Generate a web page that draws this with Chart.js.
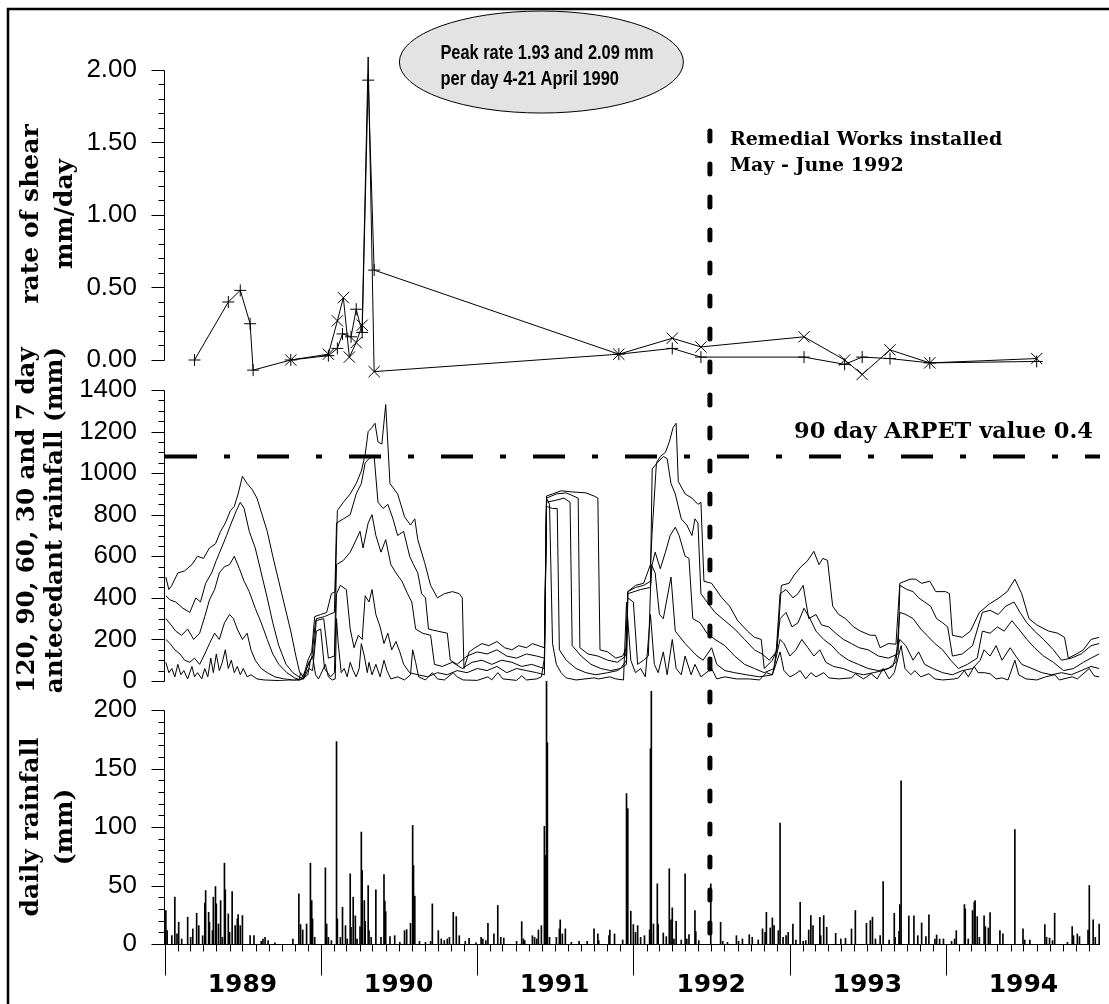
<!DOCTYPE html>
<html>
<head>
<meta charset="utf-8">
<title>Rate of shear, antecedent and daily rainfall 1989-1994</title>
<script src="https://cdn.jsdelivr.net/npm/chart.js@4.4.1/dist/chart.umd.min.js"></script>
<style>
  html, body { margin: 0; padding: 0; background: #fff; }
  canvas { display: block; }
</style>
</head>
<body>
<canvas id="shearChart" width="1109" height="1004"></canvas>
<script>
// all x values are days counted from 1 January 1989

const yearLabels = ['1989', '1990', '1991', '1992', '1993', '1994'];
const xMax = 2186;

const shearTicks = [0, 0.5, 1, 1.5, 2];
const anteTicks = [0, 200, 400, 600, 800, 1000, 1200, 1400];
const rainTicks = [0, 50, 100, 150, 200];

// rate of shear, mm/day   [day, rate]
const shearPlus = [[69,0.00],[148,0.40],[176,0.48],[199,0.25],[206,-0.07],[294,0.00],[382,0.03],[403,0.08],[415,0.18],[435,0.16],[447,0.35],[461,0.19],[475,1.93],[489,0.62],[1061,0.04],[1186,0.08],[1253,0.02],[1494,0.02],[1589,-0.03],[1630,0.02],[1695,0.01],[1788,-0.02],[2038,-0.01]];
const shearCross = [[294,0.00],[382,0.04],[403,0.27],[417,0.43],[431,0.02],[447,0.12],[461,0.24],[475,2.09],[489,-0.08],[1061,0.04],[1186,0.15],[1253,0.09],[1494,0.16],[1589,0.00],[1630,-0.10],[1695,0.07],[1788,-0.02],[2038,0.01]];

// antecedent rainfall, mm   [day, total]
const ante120 = [[2,500],[9,440],[16,460],[30,520],[46,530],[63,560],[76,600],[90,590],[104,640],[118,660],[130,720],[141,760],[153,820],[162,840],[171,900],[181,985],[192,950],[204,920],[215,880],[227,800],[239,720],[252,600],[266,480],[280,360],[294,240],[306,120],[315,40],[324,20],[334,100],[343,140],[350,310],[364,320],[378,330],[389,420],[398,430],[403,820],[417,860],[433,900],[447,950],[459,1010],[468,1090],[475,1200],[484,1220],[491,1240],[498,1150],[507,1140],[516,1330],[526,950],[544,900],[560,790],[574,750],[584,780],[591,680],[607,570],[621,460],[637,400],[653,420],[672,430],[688,420],[695,400],[699,60],[711,140],[725,160],[741,180],[757,170],[776,190],[794,160],[811,150],[827,170],[845,160],[859,180],[887,160],[892,890],[906,900],[926,915],[950,910],[984,905],[1003,890],[1012,880],[1017,150],[1035,140],[1054,110],[1070,120],[1079,160],[1082,430],[1100,460],[1119,470],[1135,560],[1139,720],[1149,1050],[1158,1080],[1170,1100],[1179,1150],[1188,1220],[1195,1240],[1200,960],[1216,900],[1232,880],[1246,850],[1253,860],[1260,480],[1278,470],[1302,400],[1320,360],[1339,290],[1362,240],[1378,210],[1394,200],[1401,60],[1420,100],[1431,150],[1441,460],[1459,470],[1471,510],[1487,550],[1501,575],[1517,624],[1529,560],[1538,590],[1549,580],[1561,360],[1575,320],[1591,300],[1610,260],[1626,240],[1649,220],[1661,220],[1672,160],[1691,180],[1709,177],[1718,470],[1730,480],[1742,490],[1755,490],[1769,470],[1788,480],[1802,430],[1825,430],[1834,420],[1841,220],[1864,210],[1883,240],[1904,330],[1927,370],[1950,400],[1969,430],[1987,490],[2003,420],[2020,300],[2038,270],[2066,240],[2087,230],[2103,210],[2112,110],[2131,130],[2147,150],[2165,200],[2184,210]];
const ante90 = [[2,410],[12,390],[25,380],[42,350],[58,330],[72,400],[83,380],[95,470],[109,520],[120,580],[132,640],[144,700],[155,760],[167,820],[176,860],[185,830],[197,720],[211,640],[225,520],[239,400],[252,280],[266,170],[283,80],[299,40],[313,20],[324,10],[336,90],[347,120],[354,300],[373,310],[384,320],[396,330],[401,760],[417,780],[433,800],[447,900],[459,950],[468,1050],[477,1070],[489,1080],[498,860],[510,830],[521,850],[533,780],[544,700],[558,720],[572,600],[581,560],[591,520],[600,420],[609,400],[616,250],[637,240],[660,230],[667,100],[683,80],[706,120],[730,140],[753,130],[776,150],[799,120],[822,110],[845,130],[869,120],[887,110],[892,880],[915,900],[938,905],[966,880],[970,160],[989,130],[1012,120],[1035,100],[1058,90],[1077,120],[1082,430],[1100,450],[1119,460],[1135,480],[1139,1020],[1151,1050],[1165,1080],[1174,1070],[1183,950],[1193,900],[1207,780],[1220,750],[1232,700],[1239,780],[1246,760],[1253,420],[1267,380],[1286,330],[1309,290],[1332,250],[1355,200],[1378,150],[1396,130],[1413,100],[1429,140],[1438,420],[1452,440],[1468,400],[1480,420],[1492,460],[1505,300],[1522,320],[1535,270],[1552,260],[1568,230],[1586,200],[1605,180],[1623,160],[1644,150],[1668,120],[1691,110],[1714,130],[1718,460],[1735,440],[1749,430],[1762,400],[1776,380],[1790,360],[1804,300],[1818,280],[1830,260],[1841,120],[1864,130],[1888,170],[1911,330],[1929,340],[1948,320],[1966,360],[1985,380],[1999,330],[2015,280],[2033,240],[2054,200],[2077,150],[2096,100],[2119,110],[2142,130],[2165,170],[2184,180]];
const ante60 = [[2,300],[14,270],[25,240],[39,220],[53,250],[67,200],[81,230],[93,310],[104,390],[116,440],[127,520],[139,550],[151,560],[162,600],[174,540],[185,480],[197,430],[211,350],[225,280],[239,200],[252,130],[266,80],[285,40],[303,15],[317,5],[331,60],[343,110],[352,290],[371,300],[382,110],[396,120],[401,560],[417,580],[433,620],[447,680],[456,720],[463,640],[475,760],[484,800],[493,700],[505,620],[516,680],[528,560],[540,520],[554,480],[567,420],[577,380],[586,250],[602,230],[621,220],[630,80],[648,70],[672,90],[695,60],[718,90],[741,100],[764,80],[787,100],[811,90],[834,70],[857,80],[887,60],[892,860],[915,870],[933,880],[947,860],[952,170],[973,120],[996,80],[1019,60],[1042,50],[1065,60],[1079,100],[1082,420],[1112,440],[1135,450],[1139,560],[1146,620],[1158,540],[1170,620],[1181,700],[1193,740],[1202,700],[1216,600],[1225,590],[1234,300],[1251,280],[1267,230],[1286,200],[1309,170],[1332,120],[1355,80],[1378,60],[1401,40],[1424,60],[1438,300],[1452,330],[1466,260],[1480,280],[1494,350],[1508,300],[1522,240],[1540,200],[1559,170],[1577,130],[1598,100],[1621,80],[1644,60],[1668,50],[1691,60],[1709,90],[1718,330],[1732,320],[1749,300],[1767,250],[1781,220],[1800,180],[1818,150],[1837,100],[1855,60],[1876,80],[1899,110],[1911,240],[1929,230],[1946,260],[1962,240],[1980,290],[1996,250],[2015,200],[2033,160],[2054,120],[2077,90],[2101,50],[2124,60],[2147,90],[2165,110],[2184,130]];
const ante30 = [[2,200],[12,180],[23,150],[35,130],[46,100],[58,90],[69,110],[81,80],[93,130],[104,180],[116,230],[127,200],[139,280],[151,320],[160,300],[169,250],[181,200],[192,230],[201,150],[211,100],[225,60],[239,40],[257,20],[278,10],[301,5],[324,10],[336,60],[345,50],[354,240],[364,250],[373,60],[387,20],[396,40],[401,420],[410,460],[424,440],[433,250],[442,160],[452,220],[461,200],[468,410],[477,380],[484,440],[493,320],[503,260],[512,180],[521,230],[530,150],[540,190],[549,140],[558,80],[572,40],[591,30],[614,20],[637,40],[660,30],[683,50],[706,40],[730,60],[753,50],[776,70],[799,40],[822,60],[845,50],[869,40],[887,30],[892,840],[906,830],[917,830],[922,150],[938,100],[961,60],[984,40],[1007,30],[1035,40],[1058,50],[1079,80],[1082,400],[1095,380],[1105,80],[1119,100],[1130,120],[1137,560],[1146,520],[1156,320],[1165,300],[1174,400],[1183,500],[1193,240],[1216,180],[1230,150],[1244,120],[1258,100],[1278,160],[1290,80],[1309,50],[1332,40],[1359,30],[1390,20],[1420,30],[1438,200],[1447,180],[1461,120],[1475,150],[1489,200],[1503,160],[1517,120],[1531,150],[1545,90],[1563,70],[1586,60],[1610,40],[1633,30],[1656,40],[1679,50],[1702,70],[1718,200],[1732,170],[1749,100],[1762,140],[1776,80],[1795,60],[1818,40],[1841,30],[1864,50],[1888,60],[1906,100],[1915,150],[1929,120],[1943,170],[1957,100],[1976,160],[1989,120],[2003,80],[2027,60],[2050,40],[2073,30],[2096,40],[2119,30],[2142,50],[2165,70],[2184,60]];
const ante7 = [[2,90],[9,40],[16,60],[23,20],[30,80],[37,30],[44,50],[53,10],[63,70],[69,20],[76,40],[86,10],[93,60],[100,20],[107,110],[113,40],[120,130],[127,50],[134,90],[141,150],[148,60],[155,100],[162,40],[169,70],[176,30],[183,60],[192,20],[201,30],[215,10],[232,5],[255,3],[289,0],[313,0],[317,40],[324,15],[334,30],[340,100],[345,120],[352,30],[359,10],[375,80],[382,20],[391,5],[398,10],[401,300],[405,180],[412,40],[419,60],[426,20],[433,90],[440,50],[447,20],[454,60],[459,180],[466,120],[473,40],[477,90],[484,30],[493,80],[503,20],[512,100],[519,50],[528,10],[544,20],[560,5],[574,30],[579,150],[586,90],[593,20],[609,5],[625,40],[637,10],[653,5],[674,40],[683,20],[697,5],[730,3],[755,20],[764,5],[778,40],[790,10],[822,3],[834,25],[845,5],[869,10],[880,20],[887,110],[892,880],[899,850],[906,180],[915,80],[926,40],[938,15],[961,5],[1003,15],[1014,10],[1040,20],[1054,10],[1072,5],[1079,380],[1089,100],[1100,40],[1112,60],[1123,20],[1135,320],[1144,80],[1153,40],[1165,140],[1174,30],[1186,200],[1195,60],[1207,30],[1216,120],[1230,30],[1239,80],[1253,20],[1278,60],[1290,10],[1309,20],[1336,10],[1366,10],[1390,5],[1406,40],[1420,30],[1438,140],[1447,50],[1461,20],[1471,30],[1485,50],[1498,10],[1510,40],[1522,20],[1540,40],[1552,15],[1575,10],[1605,15],[1614,35],[1633,10],[1651,35],[1665,10],[1679,60],[1693,10],[1705,40],[1721,170],[1730,60],[1744,30],[1753,50],[1767,20],[1786,35],[1800,10],[1818,5],[1846,10],[1855,15],[1869,50],[1878,20],[1892,70],[1901,40],[1915,40],[1929,35],[1943,10],[1957,15],[1971,5],[1987,100],[1996,30],[2013,10],[2038,5],[2059,20],[2080,30],[2091,5],[2121,20],[2133,10],[2161,60],[2172,25],[2184,20]];

// daily rainfall, mm   [day, rainfall]
const rainDaily = [[2,28.6],[5,11.4],[16,7.1],[23,40],[28,8.6],[32,18.6],[39,4.3],[53,22.9],[60,5.7],[65,12.9],[74,26.3],[79,15.7],[88,7.1],[93,34.9],[95,45.7],[102,27.1],[104,18.6],[111,11.4],[113,40],[118,49.1],[120,34.3],[125,17.1],[130,37.1],[134,5.7],[139,69.1],[141,46.3],[148,25.7],[151,10],[157,44.9],[164,15.7],[169,21.4],[171,25.1],[176,15.7],[181,24.3],[199,7.1],[208,7.1],[225,2.3],[229,4.3],[234,5.7],[241,2.9],[257,0.9],[299,4.3],[313,42.9],[317,16.6],[322,12],[331,17.1],[340,69.1],[343,37.1],[345,21.4],[350,5.7],[375,65.1],[378,17.1],[382,5.7],[389,2.9],[401,173],[403,21.4],[410,5.7],[415,31.4],[422,15.7],[426,4.3],[433,60],[435,14.3],[440,40],[445,24],[449,4.3],[456,14.9],[459,95.7],[461,62.9],[466,37.1],[468,19.4],[475,50],[477,11.4],[482,5.7],[493,46.3],[505,5.7],[512,59.4],[514,36.6],[516,27.7],[526,6.3],[537,7.1],[549,1.4],[560,11.4],[565,12.3],[574,17.7],[579,101.4],[581,67.1],[584,40.9],[595,2.3],[609,1.4],[621,2.3],[625,34.3],[639,11.4],[646,4.3],[653,2.9],[660,4.3],[665,5.7],[674,27.1],[681,23.4],[688,7.1],[702,2.3],[711,4.9],[727,1.1],[739,5.7],[743,4.3],[750,2.9],[755,17.7],[769,8.6],[778,32.9],[785,5.7],[792,5.1],[822,2.3],[834,19.1],[838,4.3],[841,2.9],[859,7.1],[864,5.7],[869,4.3],[873,12],[880,15.7],[887,100.6],[889,75.7],[892,230],[894,172],[899,5.7],[915,5.7],[922,12.9],[924,20.6],[929,8.6],[936,12.9],[950,1.4],[968,2.3],[987,2.3],[1003,12.9],[1012,8.6],[1014,2.9],[1038,7.1],[1040,12],[1051,8.6],[1070,3.4],[1079,128.6],[1082,115.7],[1089,28],[1095,16.6],[1100,10],[1105,15.7],[1112,5.7],[1121,7.1],[1133,12],[1135,167],[1137,216],[1142,17.1],[1151,51.4],[1153,17],[1165,9.4],[1172,6.3],[1179,64.3],[1183,20.6],[1186,30.9],[1190,4.3],[1195,19.4],[1207,3.4],[1216,60],[1220,4.3],[1225,8],[1239,28.6],[1241,10.6],[1248,2.9],[1276,51.4],[1299,18.6],[1304,2.3],[1315,1.4],[1336,7.1],[1341,2.3],[1350,4.3],[1366,8],[1373,5.7],[1387,3.4],[1397,12.9],[1403,10],[1406,27.1],[1415,13.7],[1420,22.3],[1424,15.7],[1434,11.4],[1438,103.4],[1445,5.7],[1452,7.1],[1457,10],[1468,17.1],[1475,3.4],[1485,35.7],[1492,2.3],[1498,2.9],[1505,12],[1510,24.3],[1515,15.7],[1531,22.9],[1533,7.1],[1540,24.3],[1547,14.3],[1568,9.1],[1580,4.3],[1591,4.9],[1605,12.9],[1614,28.6],[1640,17.7],[1649,20],[1654,22.9],[1661,4.3],[1672,7.1],[1679,53.4],[1693,3.4],[1705,26.3],[1707,5.7],[1716,10.9],[1718,33.7],[1721,139.4],[1739,24],[1751,24],[1760,7.1],[1769,18],[1779,6.3],[1786,24.9],[1800,4.3],[1804,7.7],[1811,4.3],[1820,4.3],[1839,2.3],[1846,4.3],[1850,11.4],[1869,33.7],[1871,30],[1878,4.3],[1888,28.6],[1892,35.7],[1894,37.1],[1899,23.4],[1904,5.7],[1915,24],[1918,14.9],[1925,13.7],[1929,26.9],[1952,11.4],[1959,8.6],[1987,97.7],[2006,12.9],[2010,3.4],[2022,3.4],[2057,16.6],[2061,5.7],[2068,5.1],[2075,2.9],[2080,26.3],[2110,1.4],[2121,14.9],[2124,7.1],[2133,8.6],[2138,6.3],[2158,12],[2161,50],[2170,20.6],[2175,5.7],[2184,17.1]];

const arpet90 = 1080;      // 90 day ARPET value 0.4
const remedialDay = 1274;  // remedial works, May - June 1992
const peakNote = [880, 2.055];

Chart.defaults.color = '#000';
Chart.defaults.font.family = '"Liberation Sans", Arial, sans-serif';

function dayOf(year, month) {
  return Math.round((Date.UTC(year, month, 1) - Date.UTC(1989, 0, 1)) / 864e5);
}

const toPoints = arr => arr.map(([x, y]) => ({ x, y }));

function lineSet(data, extra) {
  return Object.assign({
    type: 'line',
    data: toPoints(data),
    xAxisID: 'x',
    borderColor: '#000',
    borderWidth: 1,
    pointRadius: 0,
    tension: 0,
    fill: false
  }, extra);
}

const datasets = [
  lineSet(shearPlus, { yAxisID: 'yS', pointStyle: 'cross', pointRadius: 6, pointBorderColor: '#000', pointBorderWidth: 1, clip: false }),
  lineSet(shearCross, { yAxisID: 'yS', pointStyle: 'crossRot', pointRadius: 8, pointBorderColor: '#000', pointBorderWidth: 1, clip: false }),
  lineSet(ante120, { yAxisID: 'yA' }),
  lineSet(ante90, { yAxisID: 'yA' }),
  lineSet(ante60, { yAxisID: 'yA' }),
  lineSet(ante30, { yAxisID: 'yA' }),
  lineSet(ante7, { yAxisID: 'yA' }),
  lineSet([[0, arpet90], [xMax, arpet90]], { yAxisID: 'yA', borderWidth: 4, borderDash: [32, 27, 6, 27] }),
  {
    type: 'bar',
    data: toPoints(rainDaily),
    xAxisID: 'x',
    yAxisID: 'yR',
    backgroundColor: '#000',
    borderWidth: 0,
    barThickness: 1
  }
];

function yAxis(ticks, weight, min, max, fmt) {
  return {
    type: 'linear',
    position: 'left',
    stack: 'panels',
    stackWeight: weight,
    min: min,
    max: max,
    grid: { display: false, drawTicks: false },
    border: { display: false },
    ticks: { padding: 28, font: { size: 26 }, autoSkip: false, callback: fmt },
    afterBuildTicks: s => { s.ticks = ticks.map(v => ({ value: v })); },
    afterFit: s => { s.width = 165; }
  };
}

const axisTitles = [
  { lines: ['rate of shear', 'mm/day'], xs: [31, 65], y: 214, size: 25 },
  { lines: ['120, 90, 60, 30 and 7 day', 'antecedant rainfall (mm)'], xs: [28, 56], y: 520, size: 24.5 },
  { lines: ['daily rainfall', '(mm)'], xs: [31, 65], y: 827, size: 25 }
];

const overlay = {
  id: 'overlay',
  afterDraw(chart) {
    const { ctx, chartArea: area, scales } = chart;
    const x = scales.x;
    ctx.save();

    // y axes with major and minor ticks
    ctx.strokeStyle = '#000';
    ctx.lineWidth = 1;
    [['yS', shearTicks, 0.1], ['yA', anteTicks, 50], ['yR', rainTicks, 10]].forEach(([id, ticks, minor]) => {
      const s = scales[id];
      const top = ticks[ticks.length - 1];
      const ax = area.left - 0.5;
      ctx.beginPath();
      ctx.moveTo(ax, Math.round(s.getPixelForValue(top)) + 0.5);
      ctx.lineTo(ax, Math.round(s.getPixelForValue(0)) + 0.5);
      const n = Math.round(top / minor);
      for (let i = 0; i <= n; i++) {
        const v = i * minor;
        const py = Math.round(s.getPixelForValue(v)) + 0.5;
        const major = ticks.some(t => Math.abs(t - v) < 1e-6);
        ctx.moveTo(ax - (major ? 13 : 6), py);
        ctx.lineTo(ax, py);
      }
      ctx.stroke();
    });

    // time axis, monthly ticks, long ticks at each new year
    const base = Math.round(area.bottom) + 0.5;
    ctx.beginPath();
    ctx.moveTo(area.left - 1, base);
    ctx.lineTo(area.right, base);
    yearLabels.forEach(y => {
      for (let m = 0; m < 12; m++) {
        const px = Math.round(x.getPixelForValue(dayOf(+y, m))) + 0.5;
        ctx.moveTo(px, base);
        ctx.lineTo(px, base + (m === 0 ? 31 : 7));
      }
    });
    ctx.stroke();

    // remedial works marker
    const rx = x.getPixelForValue(remedialDay);
    ctx.setLineDash([10, 23]);
    ctx.lineCap = 'round';
    ctx.lineWidth = 5;
    ctx.beginPath();
    ctx.moveTo(rx, scales.yS.getPixelForValue(1.58));
    ctx.lineTo(rx, area.bottom);
    ctx.stroke();
    ctx.setLineDash([]);
    ctx.lineCap = 'butt';

    ctx.fillStyle = '#000';
    ctx.textBaseline = 'middle';
    ctx.textAlign = 'left';
    ctx.font = 'bold 19px "DejaVu Serif"';
    ctx.fillText('Remedial Works installed', rx + 20, 140);
    ctx.fillText('May - June 1992', rx + 20, 166);

    ctx.textAlign = 'right';
    ctx.font = 'bold 22.5px "DejaVu Serif"';
    ctx.fillText('90 day ARPET value 0.4', 1093, scales.yA.getPixelForValue(arpet90) - 24);

    // peak rate note
    const ex = x.getPixelForValue(peakNote[0]);
    const ey = scales.yS.getPixelForValue(peakNote[1]);
    ctx.beginPath();
    ctx.ellipse(ex, ey, 142, 51, 0, 0, Math.PI * 2);
    ctx.fillStyle = '#e3e3e3';
    ctx.fill();
    ctx.lineWidth = 1;
    ctx.strokeStyle = '#000';
    ctx.stroke();
    ctx.fillStyle = '#000';
    ctx.save();
    ctx.translate(ex - 101, ey);
    ctx.scale(0.78, 1);
    ctx.textAlign = 'left';
    ctx.font = 'bold 21px "Liberation Sans"';
    ctx.fillText('Peak rate 1.93 and 2.09 mm', 0, -9);
    ctx.fillText('per day 4-21 April 1990', 0, 17);
    ctx.restore();

    // axis titles
    ctx.textAlign = 'center';
    axisTitles.forEach(t => t.lines.forEach((line, i) => {
      ctx.save();
      ctx.font = 'bold ' + t.size + 'px "DejaVu Serif"';
      ctx.translate(t.xs[i], t.y);
      ctx.rotate(-Math.PI / 2);
      ctx.fillText(line, 0, 0);
      ctx.restore();
    }));

    // outer frame
    ctx.lineWidth = 2.5;
    ctx.strokeRect(8, 9, 1200, 1100);
    ctx.restore();
  }
};

new Chart(document.getElementById('shearChart'), {
  type: 'line',
  data: { datasets: datasets },
  options: {
    responsive: false,
    animation: false,
    devicePixelRatio: 1,
    events: [],
    layout: { padding: { top: 70, left: 0, right: 0, bottom: 0 } },
    plugins: { legend: { display: false }, tooltip: { enabled: false } },
    scales: {
      yR: yAxis(rainTicks, 263, 0, 224.79, v => String(v)),
      yA: yAxis(anteTicks, 291, 0, 1400, v => String(v)),
      yS: yAxis(shearTicks, 320, -0.2069, 2, v => v.toFixed(2)),
      x: {
        type: 'linear',
        position: 'bottom',
        min: 0,
        max: xMax,
        offset: false,
        grid: { display: false, drawTicks: false },
        border: { display: false },
        afterBuildTicks: s => { s.ticks = yearLabels.map(y => ({ value: dayOf(+y, 6) })); },
        ticks: {
          autoSkip: false,
          maxRotation: 0,
          minRotation: 0,
          padding: 26,
          font: { family: '"DejaVu Sans"', size: 25, weight: 'bold' },
          callback: (v, i) => yearLabels[i]
        },
        afterFit: s => { s.height = 60; }
      }
    }
  },
  plugins: [overlay]
});
</script>
</body>
</html>
